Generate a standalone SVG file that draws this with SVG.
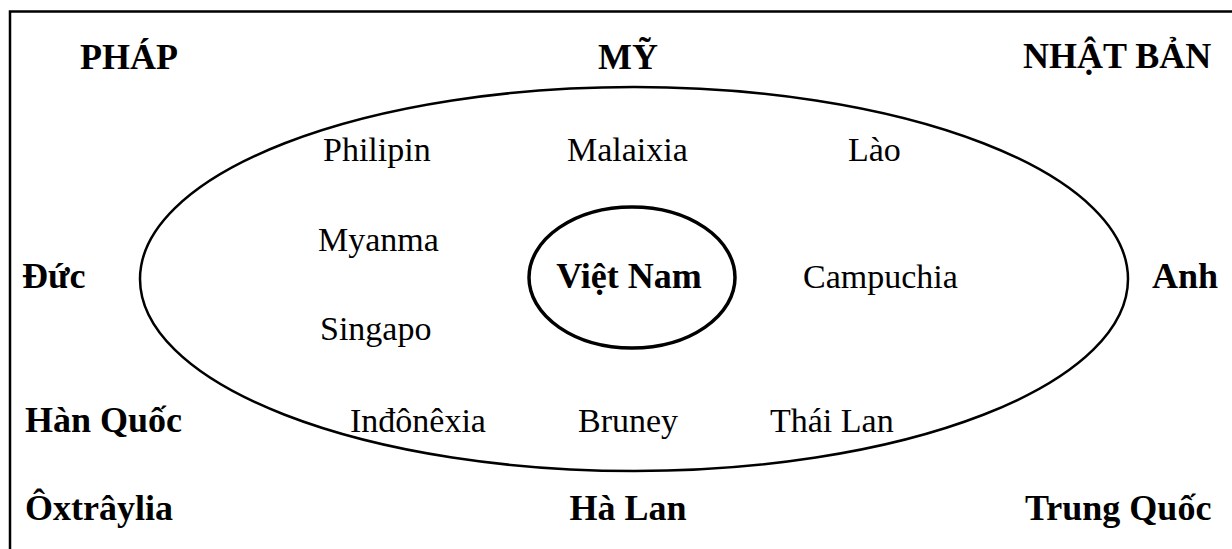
<svg xmlns="http://www.w3.org/2000/svg" width="1232" height="549" viewBox="0 0 1232 549">
<style>
.b{font-family:"Liberation Serif","Times New Roman",serif;font-weight:bold;font-size:36px;fill:#000}
.r{font-family:"Liberation Serif","Times New Roman",serif;font-size:34px;fill:#000}
.e{fill:none;stroke:#000}
</style>
<rect x="0" y="0" width="1232" height="549" fill="#fff"/>
<rect id="frame" x="10" y="11.5" width="1240" height="560" fill="none" stroke="#000" stroke-width="2.5"/>
<g id="region">
<ellipse class="e" cx="634" cy="279" rx="494" ry="192" stroke-width="2.5"/>
</g>
<g id="vietnam">
<ellipse class="e" cx="632" cy="277.5" rx="103" ry="70.5" stroke-width="3.5"/>
<text class="b" x="629" y="288" text-anchor="middle" font-size="35">Việt Nam</text>
</g>
<g id="connectors"></g>
<g id="phap"><text class="b" x="80" y="69">PHÁP</text></g>
<g id="my"><text class="b" x="628" y="69" text-anchor="middle">MỸ</text></g>
<g id="nhatban"><text class="b" x="1023" y="68">NHẬT BẢN</text></g>
<g id="duc"><text class="b" x="22" y="288">Đức</text></g>
<g id="anh"><text class="b" x="1152" y="288">Anh</text></g>
<g id="hanquoc"><text class="b" x="25" y="432">Hàn Quốc</text></g>
<g id="oxtraylia"><text class="b" x="25" y="520">Ôxtrâylia</text></g>
<g id="halan"><text class="b" x="628" y="520" text-anchor="middle">Hà Lan</text></g>
<g id="trungquoc"><text class="b" x="1025" y="520">Trung Quốc</text></g>
<g id="philipin"><text class="r" x="323" y="161">Philipin</text></g>
<g id="malaixia"><text class="r" x="567" y="161">Malaixia</text></g>
<g id="lao"><text class="r" x="848" y="161">Lào</text></g>
<g id="myanma"><text class="r" x="318" y="251">Myanma</text></g>
<g id="campuchia"><text class="r" x="803" y="288">Campuchia</text></g>
<g id="singapo"><text class="r" x="320" y="340">Singapo</text></g>
<g id="indonexia"><text class="r" x="350" y="432">Inđônêxia</text></g>
<g id="bruney"><text class="r" x="578" y="432">Bruney</text></g>
<g id="thailan"><text class="r" x="770" y="432">Thái Lan</text></g>
</svg>
